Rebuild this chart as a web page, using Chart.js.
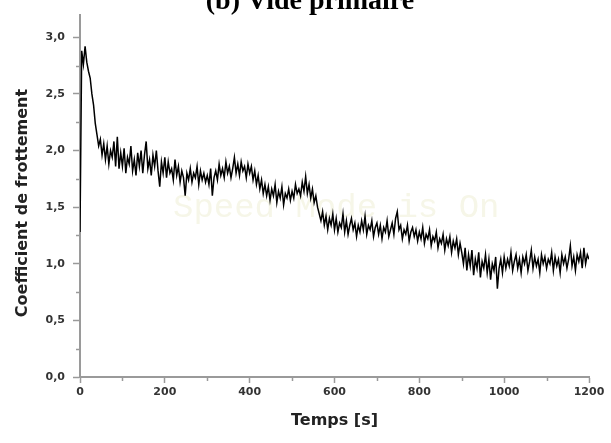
<!DOCTYPE html>
<html>
<head>
<meta charset="utf-8">
<title>Vide primaire</title>
<script src="https://cdn.jsdelivr.net/npm/chart.js@4.4.1/dist/chart.umd.min.js"></script>
<style>
  html, body { margin: 0; padding: 0; background: #fff; }
  #wrap { width: 611px; height: 443px; }
</style>
</head>
<body>
<div id="wrap"><canvas id="chart" width="611" height="443"></canvas></div>
<script>
// Coefficient de frottement, every 4 s (one row = 100 s)
const sampleStep = 4;
const frictionCoef = [
    1.28, 2.88, 2.76, 2.92, 2.78, 2.70, 2.64, 2.50, 2.40, 2.24, 2.14, 2.04, 2.10, 1.96, 2.06, 1.92, 2.04, 1.88, 2.00, 1.94, 2.08, 1.86, 2.12, 1.84, 1.98,
    1.86, 2.02, 1.80, 1.94, 1.88, 2.04, 1.82, 1.92, 1.78, 1.98, 1.86, 2.00, 1.80, 1.96, 2.08, 1.84, 1.92, 1.78, 1.96, 1.86, 2.00, 1.82, 1.68, 1.90, 1.80,
    1.94, 1.76, 1.90, 1.80, 1.84, 1.74, 1.92, 1.78, 1.86, 1.72, 1.82, 1.76, 1.60, 1.80, 1.74, 1.84, 1.72, 1.80, 1.76, 1.86, 1.70, 1.82, 1.74, 1.80, 1.72,
    1.78, 1.70, 1.84, 1.60, 1.76, 1.82, 1.74, 1.88, 1.78, 1.84, 1.76, 1.90, 1.80, 1.86, 1.76, 1.84, 1.94, 1.80, 1.88, 1.78, 1.90, 1.82, 1.86, 1.76, 1.88,
    1.80, 1.86, 1.74, 1.82, 1.70, 1.78, 1.66, 1.74, 1.62, 1.70, 1.60, 1.68, 1.56, 1.66, 1.60, 1.70, 1.54, 1.64, 1.58, 1.68, 1.52, 1.62, 1.58, 1.66, 1.56,
    1.64, 1.58, 1.70, 1.62, 1.66, 1.60, 1.72, 1.64, 1.77, 1.62, 1.70, 1.58, 1.66, 1.54, 1.60, 1.50, 1.44, 1.38, 1.46, 1.34, 1.42, 1.30, 1.40, 1.34, 1.44,
    1.30, 1.40, 1.28, 1.36, 1.32, 1.44, 1.28, 1.38, 1.26, 1.34, 1.40, 1.30, 1.36, 1.24, 1.34, 1.28, 1.38, 1.30, 1.42, 1.26, 1.34, 1.30, 1.38, 1.24, 1.32,
    1.36, 1.26, 1.34, 1.22, 1.32, 1.28, 1.38, 1.24, 1.30, 1.36, 1.26, 1.40, 1.46, 1.30, 1.34, 1.22, 1.30, 1.26, 1.34, 1.20, 1.28, 1.32, 1.24, 1.30, 1.20,
    1.28, 1.22, 1.32, 1.18, 1.26, 1.22, 1.30, 1.16, 1.24, 1.20, 1.28, 1.14, 1.22, 1.18, 1.26, 1.12, 1.22, 1.16, 1.24, 1.10, 1.20, 1.14, 1.22, 1.08, 1.18,
    1.10, 1.00, 1.14, 0.94, 1.08, 0.98, 1.12, 0.90, 1.04, 0.96, 1.10, 0.88, 1.02, 0.96, 1.08, 0.92, 1.04, 0.86, 1.00, 0.94, 1.06, 0.78, 0.96, 1.04, 0.92,
    1.06, 0.96, 1.04, 0.98, 1.10, 0.94, 1.02, 1.08, 0.96, 1.04, 0.92, 1.06, 1.00, 1.08, 0.94, 1.02, 1.12, 0.96, 1.06, 0.98, 1.04, 0.92, 1.08, 1.00, 1.06,
    0.96, 1.04, 1.00, 1.10, 0.94, 1.06, 0.98, 1.04, 0.92, 1.08, 1.00, 1.06, 0.96, 1.04, 1.16, 0.98, 1.06, 0.94, 1.08, 1.02, 1.10, 0.96, 1.14, 1.00, 1.08,
    1.04
];
const xTickValues = [0, 200, 400, 600, 800, 1000, 1200];
const xMinorTicks = [100, 300, 500, 700, 900, 1100];
const yTickValues = [0, 0.5, 1, 1.5, 2, 2.5, 3];
const yTickLabels = ['0,0', '0,5', '1,0', '1,5', '2,0', '2,5', '3,0'];
const yMinorTicks = [0.25, 0.75, 1.25, 1.75, 2.25, 2.75];
const chartTitle = '(b) Vide primaire';
const yAxisTitle = 'Coefficient de frottement';
const xAxisTitle = 'Temps [s]';
const watermarkText = 'Speed Mode is On';

const axisGray = '#9a9a9a';
const tickFont = { family: 'DejaVu Sans', weight: 'bold', size: 11 };
const titleFont = { family: 'DejaVu Sans', weight: 'bold', size: 16 };

const points = frictionCoef.map((v, i) => ({ x: i * sampleStep, y: v }));

// Title (cut off at the top of the scan), faint watermark, minor ticks, y title
const decorPlugin = {
    id: 'decor',
    beforeDatasetsDraw(chart) {
        const ctx = chart.ctx;
        ctx.save();
        ctx.font = '34px "Liberation Mono"';
        ctx.fillStyle = '#f6f6e8';
        ctx.textBaseline = 'alphabetic';
        ctx.textAlign = 'left';
        ctx.fillText(watermarkText, 173, 217);
        ctx.restore();
    },
    afterDraw(chart) {
        const ctx = chart.ctx;
        const xs = chart.scales.x, ys = chart.scales.y;
        const area = chart.chartArea;
        ctx.save();
        ctx.strokeStyle = axisGray;
        ctx.lineWidth = 1.5;
        ctx.beginPath();
        yMinorTicks.forEach(v => {
            const py = Math.round(ys.getPixelForValue(v)) + 0.5;
            ctx.moveTo(area.left - 4, py);
            ctx.lineTo(area.left, py);
        });
        xMinorTicks.forEach(v => {
            const px = Math.round(xs.getPixelForValue(v)) + 0.5;
            ctx.moveTo(px, area.bottom);
            ctx.lineTo(px, area.bottom + 4);
        });
        ctx.stroke();

        ctx.font = 'bold 28px "Liberation Serif"';
        ctx.fillStyle = '#000';
        ctx.textAlign = 'center';
        ctx.textBaseline = 'alphabetic';
        ctx.fillText(chartTitle, 310, 9);

        ctx.translate(23, 203);
        ctx.rotate(-Math.PI / 2);
        ctx.font = 'bold 16px "DejaVu Sans"';
        ctx.fillStyle = '#222';
        ctx.textBaseline = 'middle';
        ctx.fillText(yAxisTitle, 0, 0);
        ctx.restore();
    }
};

new Chart(document.getElementById('chart'), {
    type: 'line',
    data: {
        datasets: [{
            data: points,
            borderColor: '#000',
            borderWidth: 1.5,
            pointRadius: 0,
            tension: 0,
            fill: false
        }]
    },
    options: {
        responsive: false,
        animation: false,
        layout: { padding: { top: 8, right: 22, left: 0, bottom: 0 } },
        plugins: {
            legend: { display: false },
            tooltip: { enabled: false }
        },
        scales: {
            x: {
                type: 'linear',
                min: 0,
                max: 1200,
                afterFit: s => { s.height = 66; },
                afterBuildTicks: s => { s.ticks = xTickValues.map(v => ({ value: v })); },
                ticks: {
                    font: tickFont,
                    color: '#333',
                    padding: 3,
                    maxRotation: 0,
                    callback: v => String(v)
                },
                grid: {
                    drawOnChartArea: false,
                    drawTicks: true,
                    tickLength: 6,
                    tickWidth: 1.5,
                    tickColor: axisGray
                },
                border: { display: true, color: axisGray, width: 2 },
                title: {
                    display: true,
                    text: xAxisTitle,
                    font: titleFont,
                    color: '#222',
                    padding: { top: 0, bottom: 13 }
                }
            },
            y: {
                type: 'linear',
                min: 0,
                max: 3.2,
                afterFit: s => { s.width = 80; },
                afterBuildTicks: s => { s.ticks = yTickValues.map(v => ({ value: v })); },
                ticks: {
                    font: tickFont,
                    color: '#333',
                    padding: 8,
                    callback: v => yTickLabels[yTickValues.indexOf(v)]
                },
                grid: {
                    drawOnChartArea: false,
                    drawTicks: true,
                    tickLength: 7,
                    tickWidth: 1.5,
                    tickColor: axisGray
                },
                border: { display: true, color: axisGray, width: 2 },
                title: { display: false }
            }
        }
    },
    plugins: [decorPlugin]
});
</script>
</body>
</html>
